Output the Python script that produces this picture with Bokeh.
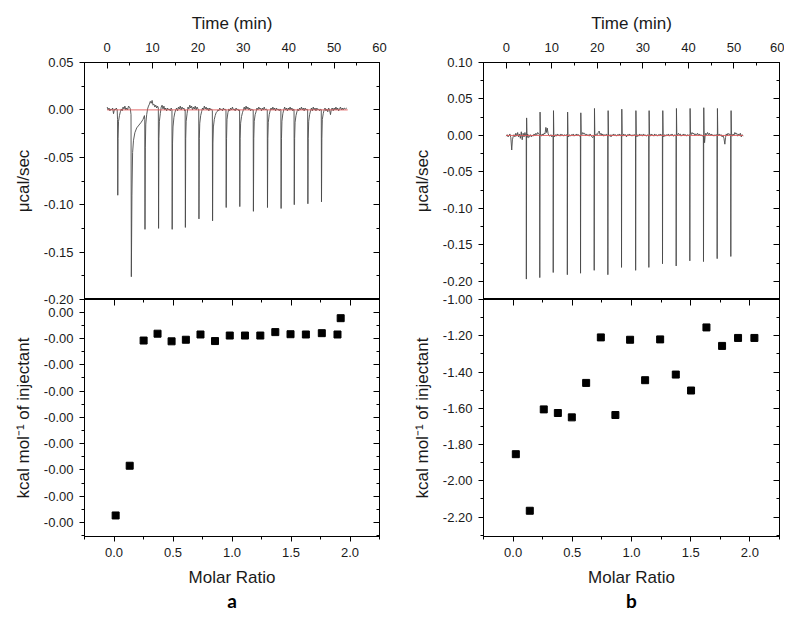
from bokeh.plotting import figure
from bokeh.layouts import row, column
from bokeh.models import LinearAxis, FixedTicker, Range1d, Title
from bokeh.embed import file_html
from bokeh.resources import INLINE

# ---------------- data ----------------
# Panel a, raw ITC trace (time in min, power in ucal/sec)
trace_a = [
    (0.0, 0.003), (0.2, 0.000), (0.4, 0.002), (0.6, -0.001), (0.8, 0.001), (1.0, 0.000), (1.2, 0.002),
    (1.4, -0.004), (1.6, 0.001), (1.8, 0.000), (2.0, 0.002), (2.2, 0.000),
    (2.28, -0.010), (2.33, -0.090), (2.40, -0.030), (2.5, -0.012), (2.7, -0.006), (2.9, -0.002), (3.1, 0.001),
    (3.3, -0.001), (3.5, 0.003), (3.7, 0.001), (3.9, 0.004), (4.1, 0.000), (4.3, 0.002), (4.5, 0.000),
    (4.7, 0.004), (4.9, 0.003), (5.1, 0.001),
    (5.25, -0.005), (5.32, -0.176), (5.45, -0.090), (5.6, -0.045), (5.8, -0.032), (6.1, -0.024), (6.5, -0.019),
    (7.0, -0.016), (7.5, -0.013), (7.9, -0.010), (8.2, -0.006),
    (8.28, -0.010), (8.33, -0.126), (8.40, -0.040), (8.5, -0.015), (8.7, -0.005), (8.9, 0.001), (9.1, 0.004),
    (9.3, 0.006), (9.5, 0.009), (9.7, 0.007), (9.9, 0.010), (10.1, 0.005), (10.3, 0.006), (10.5, 0.003),
    (10.7, 0.005), (10.9, 0.002), (11.1, 0.004),
    (11.27, 0.002), (11.32, -0.125), (11.40, -0.030), (11.5, -0.012), (11.7, -0.004), (11.9, 0.003),
    (12.1, 0.005), (12.3, 0.001), (12.5, 0.004), (12.7, 0.000), (12.9, 0.002), (13.1, -0.001), (13.3, 0.002),
    (13.5, 0.000), (13.7, 0.001), (13.9, -0.001), (14.1, 0.002),
    (14.27, 0.000), (14.32, -0.126), (14.40, -0.035), (14.5, -0.018), (14.7, -0.008), (14.9, -0.003),
    (15.1, 0.000), (15.3, 0.002), (15.5, -0.001), (15.7, 0.003), (15.9, 0.001), (16.1, 0.004), (16.3, 0.000),
    (16.5, 0.003), (16.7, 0.001), (16.9, 0.002), (17.1, -0.001),
    (17.18, 0.000), (17.23, -0.124), (17.30, -0.030), (17.4, -0.012), (17.6, -0.004), (17.8, 0.003),
    (18.0, 0.001), (18.2, 0.005), (18.4, 0.002), (18.6, 0.004), (18.8, 0.000), (19.0, 0.003), (19.2, 0.001),
    (19.4, 0.004), (19.6, 0.000), (19.8, 0.003), (20.0, 0.001),
    (20.17, 0.000), (20.22, -0.115), (20.30, -0.030), (20.4, -0.014), (20.6, -0.006), (20.8, -0.002),
    (21.0, 0.002), (21.2, 0.000), (21.4, 0.004), (21.6, 0.001), (21.8, 0.003), (22.0, 0.000), (22.2, 0.002),
    (22.4, -0.001), (22.6, 0.002), (22.8, 0.000), (23.0, 0.001),
    (23.17, -0.001), (23.22, -0.117), (23.30, -0.035), (23.4, -0.018), (23.6, -0.010), (23.8, -0.006),
    (24.0, -0.003), (24.2, -0.002), (24.4, 0.000), (24.6, -0.001), (24.8, 0.002), (25.0, 0.000), (25.2, 0.001),
    (25.4, -0.001), (25.6, 0.002), (25.8, 0.000), (26.0, 0.001),
    (26.17, 0.000), (26.22, -0.103), (26.30, -0.030), (26.4, -0.010), (26.6, -0.003), (26.8, 0.001),
    (27.0, -0.001), (27.2, 0.002), (27.4, 0.000), (27.6, 0.003), (27.8, 0.000), (28.0, 0.001), (28.2, -0.001),
    (28.4, 0.002), (28.6, 0.000), (28.8, 0.001), (29.0, -0.001),
    (29.17, 0.000), (29.22, -0.102), (29.30, -0.030), (29.4, -0.014), (29.6, -0.007), (29.8, -0.003),
    (30.0, 0.000), (30.2, 0.003), (30.4, 0.000), (30.6, 0.004), (30.8, 0.001), (31.0, 0.003), (31.2, 0.000),
    (31.4, 0.002), (31.6, -0.001), (31.8, 0.001), (32.0, 0.000),
    (32.17, 0.000), (32.22, -0.107), (32.30, -0.030), (32.4, -0.012), (32.6, -0.005), (32.8, -0.002),
    (33.0, 0.002), (33.2, 0.000), (33.4, 0.003), (33.6, 0.001), (33.8, 0.002), (34.0, -0.001), (34.2, 0.002),
    (34.4, 0.000), (34.6, 0.003), (34.8, 0.000), (35.0, 0.001),
    (35.27, 0.000), (35.32, -0.103), (35.40, -0.030), (35.5, -0.013), (35.7, -0.005), (35.9, -0.001),
    (36.1, 0.002), (36.3, 0.000), (36.5, 0.003), (36.7, 0.000), (36.9, 0.002), (37.1, -0.001), (37.3, 0.002),
    (37.5, 0.000), (37.7, 0.001), (37.9, -0.001), (38.1, 0.001),
    (38.27, 0.000), (38.32, -0.104), (38.40, -0.030), (38.5, -0.012), (38.7, -0.004), (38.9, 0.000),
    (39.1, 0.003), (39.3, 0.000), (39.5, 0.002), (39.7, -0.001), (39.9, 0.002), (40.1, 0.000), (40.3, 0.003),
    (40.5, 0.000), (40.7, 0.002), (40.9, -0.001), (41.1, 0.001),
    (41.17, 0.000), (41.22, -0.100), (41.30, -0.030), (41.4, -0.013), (41.6, -0.006), (41.8, -0.002),
    (42.0, 0.001), (42.2, -0.001), (42.4, 0.002), (42.6, 0.000), (42.8, 0.003), (43.0, 0.000), (43.2, 0.002),
    (43.4, -0.001), (43.6, 0.002), (43.8, 0.000), (44.0, 0.001),
    (44.17, 0.000), (44.22, -0.099), (44.30, -0.030), (44.4, -0.012), (44.6, -0.005), (44.8, -0.001),
    (45.0, 0.002), (45.2, -0.001), (45.4, 0.003), (45.6, 0.000), (45.8, 0.002), (46.0, -0.001), (46.2, 0.002),
    (46.4, 0.000), (46.6, 0.001), (46.8, -0.001), (47.0, 0.001),
    (47.17, 0.000), (47.22, -0.097), (47.30, -0.030), (47.4, -0.010), (47.6, -0.004), (47.8, 0.000),
    (48.0, 0.002), (48.2, -0.001), (48.4, 0.001), (48.6, -0.002), (48.8, 0.002), (49.0, 0.000), (49.2, -0.005),
    (49.4, 0.001), (49.6, 0.002), (49.8, -0.001), (50.0, 0.002), (50.2, 0.000), (50.4, 0.003), (50.6, 0.000),
    (50.8, 0.002), (51.0, -0.001), (51.2, 0.001), (51.4, 0.003), (51.6, 0.000), (51.8, 0.002), (52.0, 0.000),
    (52.2, 0.002), (52.5, 0.001), (52.8, 0.002),
]

# Panel b, raw ITC trace
trace_b = [
    (0.0, -0.001), (0.2, 0.001), (0.4, -0.002), (0.6, 0.000), (0.8, 0.002), (1.0, -0.003), (1.2, -0.020),
    (1.35, -0.006), (1.5, -0.002), (1.7, 0.001), (1.9, -0.002), (2.1, 0.003), (2.3, -0.001), (2.5, 0.004),
    (2.7, -0.002), (2.9, 0.002), (3.1, -0.004), (3.3, 0.005), (3.5, -0.006), (3.7, 0.003), (3.9, -0.002),
    (4.1, 0.004), (4.3, -0.001),
    (4.38, -0.002), (4.41, -0.197), (4.47, 0.024), (4.55, -0.003), (4.7, 0.002), (4.9, -0.003), (5.1, -0.002),
    (5.3, 0.001), (5.5, -0.002), (5.7, 0.000), (5.9, -0.001), (6.1, 0.002), (6.3, 0.000), (6.5, 0.003),
    (6.7, 0.001), (6.9, 0.004), (7.1, 0.002), (7.3, 0.001),
    (7.33, 0.001), (7.36, -0.195), (7.42, 0.032), (7.5, 0.002), (7.7, -0.001), (7.9, 0.002), (8.1, 0.000),
    (8.3, 0.003), (8.5, 0.002), (8.7, 0.011), (8.85, 0.004), (9.0, 0.010), (9.2, 0.002), (9.4, 0.000),
    (9.6, -0.001), (9.8, 0.001), (10.0, -0.002), (10.2, 0.000),
    (10.28, 0.000), (10.31, -0.188), (10.37, 0.034), (10.45, 0.001), (10.6, -0.002), (10.8, 0.001),
    (11.0, -0.001), (11.2, 0.002), (11.4, 0.000), (11.6, 0.001), (11.8, -0.001), (12.0, 0.002), (12.2, 0.000),
    (12.4, 0.001), (12.6, -0.001), (12.8, 0.001), (13.0, 0.000), (13.2, 0.001),
    (13.38, 0.000), (13.41, -0.191), (13.47, 0.032), (13.55, 0.000), (13.7, -0.002), (13.9, 0.001),
    (14.1, -0.001), (14.3, 0.001), (14.5, 0.000), (14.7, 0.002), (14.9, -0.001), (15.1, 0.001), (15.3, 0.000),
    (15.5, 0.002), (15.7, 0.000), (15.9, 0.001), (16.1, -0.001),
    (16.28, 0.000), (16.31, -0.189), (16.37, 0.031), (16.45, 0.003), (16.6, 0.001), (16.8, 0.004),
    (17.0, 0.002), (17.2, 0.003), (17.4, 0.000), (17.6, 0.002), (17.8, 0.000), (18.0, 0.001), (18.2, -0.001),
    (18.4, 0.002), (18.6, 0.000), (18.8, -0.002), (19.0, -0.003), (19.2, 0.000),
    (19.28, 0.000), (19.31, -0.185), (19.37, 0.037), (19.45, 0.002), (19.6, 0.000), (19.8, 0.002),
    (20.0, 0.001), (20.2, 0.004), (20.4, 0.006), (20.6, 0.001), (20.8, 0.003), (21.0, 0.000), (21.2, 0.002),
    (21.4, -0.001), (21.6, 0.001), (21.8, 0.000), (22.0, 0.002), (22.2, 0.000),
    (22.28, 0.000), (22.31, -0.191), (22.37, 0.034), (22.45, 0.000), (22.6, -0.001), (22.8, 0.001),
    (23.0, -0.002), (23.2, 0.001), (23.4, 0.000), (23.6, 0.002), (23.8, 0.000), (24.0, 0.001), (24.2, -0.001),
    (24.4, 0.001), (24.6, 0.000), (24.8, 0.002), (25.0, 0.000), (25.2, 0.001),
    (25.28, 0.000), (25.31, -0.181), (25.37, 0.036), (25.45, 0.001), (25.6, -0.001), (25.8, 0.002),
    (26.0, 0.000), (26.2, 0.001), (26.4, -0.002), (26.6, 0.001), (26.8, 0.000), (27.0, 0.002), (27.2, 0.000),
    (27.4, 0.001), (27.6, -0.001), (27.8, 0.001), (28.0, 0.000), (28.2, 0.001),
    (28.38, 0.000), (28.41, -0.185), (28.47, 0.034), (28.55, 0.000), (28.7, -0.002), (28.9, 0.001),
    (29.1, -0.001), (29.3, 0.002), (29.5, 0.000), (29.7, 0.001), (29.9, -0.001), (30.1, 0.002), (30.3, 0.000),
    (30.5, 0.001), (30.7, -0.001), (30.9, 0.000), (31.1, 0.001),
    (31.28, 0.000), (31.31, -0.181), (31.37, 0.034), (31.45, 0.001), (31.6, -0.001), (31.8, 0.002),
    (32.0, 0.000), (32.2, 0.001), (32.4, -0.001), (32.6, 0.002), (32.8, 0.000), (33.0, 0.001), (33.2, -0.001),
    (33.4, 0.001), (33.6, 0.000), (33.8, 0.002), (34.0, 0.000), (34.2, 0.001),
    (34.28, 0.000), (34.31, -0.176), (34.37, 0.034), (34.45, 0.000), (34.6, -0.002), (34.8, 0.001),
    (35.0, -0.001), (35.2, 0.001), (35.4, 0.000), (35.6, 0.002), (35.8, -0.001), (36.0, 0.001), (36.2, 0.000),
    (36.4, 0.002), (36.6, 0.000), (36.8, -0.001), (37.0, 0.001), (37.2, 0.000),
    (37.28, 0.000), (37.31, -0.179), (37.37, 0.037), (37.45, 0.002), (37.6, 0.000), (37.8, 0.003),
    (38.0, 0.001), (38.2, 0.002), (38.4, -0.001), (38.6, 0.001), (38.8, 0.000), (39.0, 0.002), (39.2, 0.000),
    (39.4, 0.001), (39.6, -0.001), (39.8, 0.001), (40.0, 0.000), (40.2, 0.001),
    (40.28, 0.000), (40.31, -0.172), (40.37, 0.037), (40.45, 0.003), (40.6, 0.001), (40.8, 0.004),
    (41.0, 0.002), (41.2, 0.003), (41.4, 0.000), (41.6, 0.002), (41.8, 0.001), (42.0, 0.003), (42.2, 0.000),
    (42.4, 0.002), (42.6, 0.000), (42.8, 0.001), (43.0, -0.001), (43.2, 0.000),
    (43.28, 0.000), (43.31, -0.173), (43.37, 0.038), (43.45, 0.000), (43.55, -0.010), (43.65, -0.002),
    (43.8, 0.003), (44.0, 0.001), (44.2, 0.004), (44.4, 0.001), (44.6, 0.003), (44.8, 0.000), (45.0, 0.002),
    (45.2, 0.000), (45.4, 0.001), (45.6, -0.001), (45.8, 0.001), (46.0, 0.000), (46.2, 0.001),
    (46.28, 0.000), (46.31, -0.169), (46.37, 0.037), (46.45, 0.002), (46.6, 0.000), (46.8, 0.002),
    (47.0, 0.000), (47.2, 0.001), (47.4, -0.002), (47.6, 0.000), (47.8, -0.004), (48.0, -0.012),
    (48.15, -0.003), (48.3, 0.002), (48.5, 0.000), (48.7, 0.003), (48.9, 0.001), (49.1, 0.002),
    (49.28, 0.000), (49.31, -0.166), (49.37, 0.034), (49.45, 0.001), (49.6, -0.001), (49.8, 0.002),
    (50.0, 0.000), (50.2, 0.004), (50.4, 0.002), (50.6, 0.003), (50.8, -0.001), (51.0, 0.002), (51.2, 0.000),
    (51.4, 0.003), (51.6, -0.002), (51.8, 0.001), (52.0, -0.001),
]

time_a = [t for t, _ in trace_a]
power_a = [v for _, v in trace_a]
time_b = [t for t, _ in trace_b]
power_b = [v for _, v in trace_b]

baseline_a_t = [0.0, 53.0]
baseline_b_t = [0.0, 52.0]
baseline_v = [0.0, 0.0]

# Integrated heats
molar_a = [0.014, 0.133, 0.251, 0.369, 0.488, 0.609, 0.733, 0.856, 0.981, 1.110, 1.240, 1.367, 1.496,
           1.626, 1.761, 1.894, 1.921]
heat_a = [-0.003865, -0.00292, -0.00054, -0.00041, -0.000555, -0.000525, -0.000425, -0.00055, -0.000445,
          -0.000445, -0.000445, -0.00038, -0.00042, -0.000425, -0.0004, -0.000425, -0.000115]

molar_b = [0.023, 0.141, 0.259, 0.378, 0.496, 0.617, 0.741, 0.864, 0.988, 1.115, 1.242, 1.374, 1.503,
           1.633, 1.765, 1.900, 2.038]
heat_b = [-1.853, -2.165, -1.606, -1.626, -1.650, -1.460, -1.209, -1.637, -1.222, -1.445, -1.220, -1.414,
          -1.502, -1.154, -1.256, -1.212, -1.212]

# Ranges
heat_a_range = (-0.004265, 0.00024)
heat_b_range = (-2.307, -1.0)
power_a_range = (-0.20, 0.05)
power_b_range = (-0.225, 0.10)

# Ticks
time_ticks = [0, 10, 20, 30, 40, 50, 60]
time_minor = [-5, 5, 15, 25, 35, 45, 55]
time_labels = ["0", "10", "20", "30", "40", "50", "60"]
ratio_ticks = [0.0, 0.5, 1.0, 1.5, 2.0]
ratio_minor = [-0.25, 0.25, 0.75, 1.25, 1.75, 2.25]
ratio_labels = ["0.0", "0.5", "1.0", "1.5", "2.0"]

# upper-left axis: its bottom label "-0.20" sits on the shared border and is drawn by the lower axis
power_a_ticks = [0.05, 0.0, -0.05, -0.10, -0.15]
power_a_minor = [0.025, -0.025, -0.075, -0.125, -0.175]
power_a_labels = ["0.05", "0.00", "-0.05", "-0.10", "-0.15"]

power_b_ticks = [0.10, 0.05, 0.0, -0.05, -0.10, -0.15, -0.20]
power_b_minor = [0.075, 0.025, -0.025, -0.075, -0.125, -0.175, -0.225]
power_b_labels = ["0.10", "0.05", "0.00", "-0.05", "-0.10", "-0.15", "-0.20"]

heat_a_ticks = [0.00024, 0.0, -0.0005, -0.001, -0.0015, -0.002, -0.0025, -0.003, -0.0035, -0.004]
heat_a_minor = [-0.00025, -0.00075, -0.00125, -0.00175, -0.00225, -0.00275, -0.00325, -0.00375, -0.00425]
heat_a_labels = ["-0.20", "0.00", "-0.00", "-0.00", "-0.00", "-0.00", "-0.00", "-0.00", "-0.00", "-0.00"]

heat_b_ticks = [-1.0, -1.2, -1.4, -1.6, -1.8, -2.0, -2.2]
heat_b_minor = [-1.1, -1.3, -1.5, -1.7, -1.9, -2.1, -2.3]
heat_b_labels = ["-1.00", "-1.20", "-1.40", "-1.60", "-1.80", "-2.00", "-2.20"]

# ---------------- styling ----------------
FONT = "Liberation Sans"
TICK_FS = "13px"
TITLE_FS = "17px"
TEXT_COLOR = "#1a1a1a"
TRACE_COLOR = "#4a4a4a"
BASE_COLOR = "#e05a5a"
OVERLAP = 8   # the lower panel's canvas reaches this far up behind the upper one


def style_labeled(ax, ticks, minor, labels, tick_out=True, standoff=6, title_standoff=8):
    ax.ticker = FixedTicker(ticks=ticks, minor_ticks=minor)
    ax.major_label_overrides = {t: l for t, l in zip(ticks, labels)}
    ax.major_label_text_font = FONT
    ax.major_label_text_font_size = TICK_FS
    ax.major_label_text_color = TEXT_COLOR
    ax.major_label_standoff = standoff
    ax.axis_label_text_font = FONT
    ax.axis_label_text_font_size = TITLE_FS
    ax.axis_label_text_font_style = "normal"
    ax.axis_label_text_color = TEXT_COLOR
    ax.axis_label_standoff = title_standoff
    ax.axis_line_color = "black"
    ax.major_tick_line_color = "black"
    ax.minor_tick_line_color = "black"
    if tick_out:
        ax.major_tick_out, ax.major_tick_in = 5, 0
        ax.minor_tick_out, ax.minor_tick_in = 3, 0
    else:
        ax.major_tick_out, ax.major_tick_in = 0, 6
        ax.minor_tick_out, ax.minor_tick_in = 0, 3


def mirror_axis(ticks, minor):
    return LinearAxis(ticker=FixedTicker(ticks=ticks, minor_ticks=minor),
                      major_label_text_font_size="0px", major_label_standoff=0,
                      major_label_text_color=None,
                      major_tick_in=6, major_tick_out=0, minor_tick_in=3, minor_tick_out=0,
                      axis_line_color="black", major_tick_line_color="black",
                      minor_tick_line_color="black")


def make_upper(y_rng, yticks, yminor, ylabels, t, v, base_t, width, ml, mr):
    p = figure(width=width, height=299, x_range=Range1d(-5, 60), y_range=Range1d(*y_rng),
               x_axis_location="above", output_backend="svg", toolbar_location=None,
               min_border_left=ml, min_border_right=mr, min_border_top=62, min_border_bottom=0)
    p.xgrid.visible = False
    p.ygrid.visible = False
    p.outline_line_color = "black"
    p.outline_line_alpha = 1.0
    style_labeled(p.xaxis[0], time_ticks, time_minor, time_labels,
                  tick_out=False, standoff=11, title_standoff=7)
    p.xaxis[0].axis_label = "Time (min)"
    style_labeled(p.yaxis[0], yticks, yminor, ylabels, tick_out=True, standoff=6, title_standoff=8)
    p.yaxis[0].axis_label = "μcal/sec"
    p.add_layout(mirror_axis(yticks, yminor), "right")
    p.line(t, v, line_color=TRACE_COLOR, line_width=0.9)
    p.line(base_t, baseline_v, line_color=BASE_COLOR, line_width=0.9)
    return p


def make_lower(y_rng, yticks, yminor, ylabels, x, y, width, ml, mr, letter, letter_shift):
    p = figure(width=width, height=316 + OVERLAP, x_range=Range1d(-0.25, 2.25), y_range=Range1d(*y_rng),
               output_backend="svg", toolbar_location=None,
               min_border_left=ml, min_border_right=mr, min_border_top=OVERLAP, min_border_bottom=79)
    p.margin = (-OVERLAP, 0, 0, 0)
    p.border_fill_alpha = 0.0
    p.background_fill_color = "white"
    p.xgrid.visible = False
    p.ygrid.visible = False
    p.outline_line_color = "black"
    p.outline_line_alpha = 1.0
    style_labeled(p.xaxis[0], ratio_ticks, ratio_minor, ratio_labels, tick_out=True, standoff=6,
                  title_standoff=8)
    p.xaxis[0].axis_label = "Molar Ratio"
    style_labeled(p.yaxis[0], yticks, yminor, ylabels, tick_out=True, standoff=6, title_standoff=8)
    p.yaxis[0].axis_label = "kcal mol⁻¹ of injectant"
    p.add_layout(mirror_axis(yticks, yminor), "right")
    p.add_layout(mirror_axis(ratio_ticks, ratio_minor), "above")
    p.scatter(x, y, marker="square", size=7, fill_color="black", line_color="black")
    p.add_layout(Title(text=letter, align="center", offset=letter_shift, text_font="Lato",
                       text_font_style="bold", text_font_size="19px", text_color="black",
                       standoff=-5), "below")
    return p


a_top = make_upper(power_a_range, power_a_ticks, power_a_minor, power_a_labels,
                   time_a, power_a, baseline_a_t, 400, 84, 21)
a_bot = make_lower(heat_a_range, heat_a_ticks, heat_a_minor, heat_a_labels,
                   molar_a, heat_a, 400, 84, 21, "a", 3)
b_top = make_upper(power_b_range, power_b_ticks, power_b_minor, power_b_labels,
                   time_b, power_b, baseline_b_t, 384, 83, 5)
b_bot = make_lower(heat_b_range, heat_b_ticks, heat_b_minor, heat_b_labels,
                   molar_b, heat_b, 384, 83, 5, "b", 5)

layout = row(column(a_top, a_bot), column(b_top, b_bot))

open("out.html", "w").write(file_html(layout, INLINE))
